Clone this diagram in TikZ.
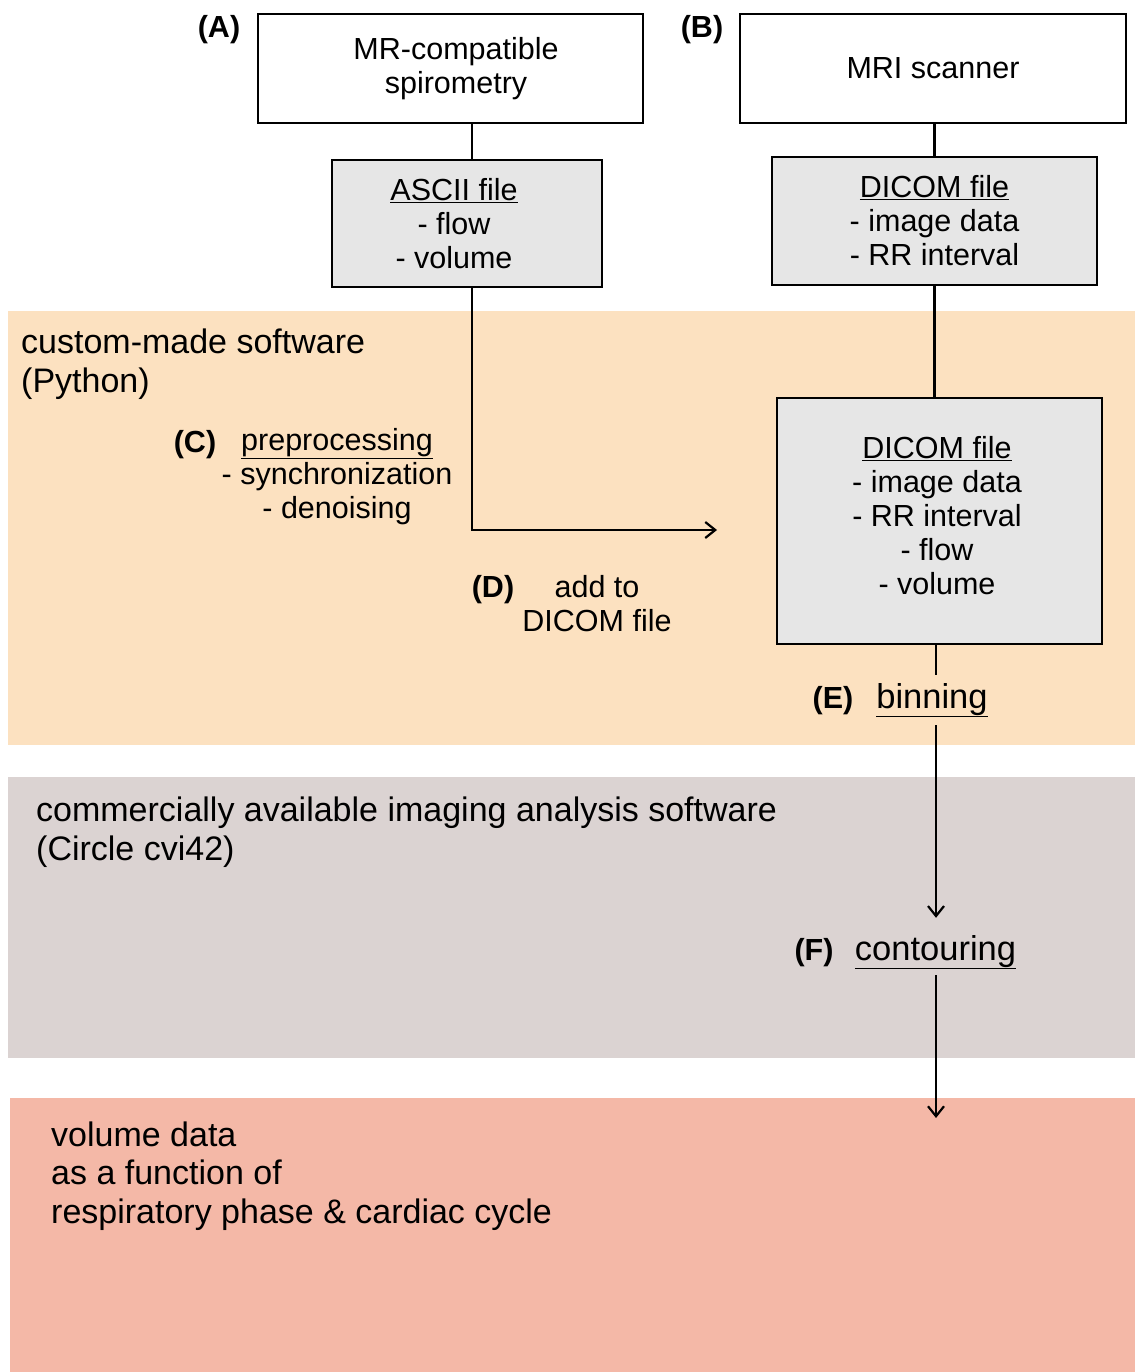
\documentclass[tikz,border=0pt]{standalone}
\usepackage{fontspec}
\setmainfont{Liberation Sans}
\usetikzlibrary{arrows.meta}
\definecolor{bandorange}{HTML}{FCE1C0}
\definecolor{bandgray}{HTML}{DBD3D2}
\definecolor{bandsalmon}{HTML}{F4B8A7}
\definecolor{boxgray}{HTML}{E6E6E6}
\begin{document}
\begin{tikzpicture}[x=1pt,y=-1pt,
  boxtext/.style={font=\fontsize{30.5}{34}\selectfont},
  steptext/.style={font=\fontsize{34.5}{38}\selectfont},
  titletext/.style={font=\fontsize{34}{38.5}\selectfont, align=left, inner sep=0pt, anchor=base west},
  lbl/.style={font=\fontsize{30.5}{34}\selectfont\bfseries, inner sep=0pt, anchor=base},
  whitebox/.style={draw, line width=2.6pt, fill=white, align=center, inner sep=0pt, boxtext},
  graybox/.style={whitebox, fill=boxgray},
  conn/.style={line width=2.2pt},
  arr/.style={conn, -{Straight Barb[length=10pt,width=16pt]}}
]
\useasboundingbox (0,0) rectangle (1135,1372);
% bands
\fill[bandorange] (8,311) rectangle (1135,745);
\fill[bandgray] (8,777) rectangle (1135,1058);
\fill[bandsalmon] (10,1098) rectangle (1135,1372);

% band titles (base = last line)
\node[titletext] (tA) at (21,392) {custom-made software\\(Python)};
\node[titletext] (tB) at (36,860) {commercially available imaging analysis software\\(Circle cvi42)};
\node[titletext] (tC) at (51,1223) {volume data\\as a function of\\respiratory phase \& cardiac cycle};

% boxes
\node[whitebox, minimum width=385pt, minimum height=109pt] (spiro) at (450.5,68.5) {\hspace*{11pt}MR-compatible\\\hspace*{11pt}spirometry};
\node[lbl] (labA) at (219,38) {(A)};
\node[graybox, minimum width=270pt, minimum height=127pt] (ascii) at (467,223.5) {\hspace*{-26pt}\underline{ASCII file}\\\hspace*{-26pt}- flow\\\hspace*{-26pt}- volume};

\node[whitebox, minimum width=386pt, minimum height=109pt] (mri) at (933,68.5) {MRI scanner};
\node[lbl] (labB) at (702,38) {(B)};
\node[graybox, minimum width=325pt, minimum height=128pt] (dicomA) at (934.5,221) {\underline{DICOM file}\\- image data\\- RR interval};

\node[graybox, minimum width=325pt, minimum height=246pt, text depth=11pt] (dicomB) at (939.5,521) {\hspace*{-5pt}\underline{DICOM file}\\\hspace*{-5pt}- image data\\\hspace*{-5pt}- RR interval\\\hspace*{-5pt}- flow\\\hspace*{-5pt}- volume};

% step labels
\node[boxtext, align=center, inner sep=0pt, anchor=base] (prep) at (337,518) {\underline{preprocessing}\\- synchronization\\- denoising};
\node[lbl] (labC) at (195,452) {(C)};
\node[boxtext, align=center, inner sep=0pt, anchor=base] (addto) at (597,631) {add to\\DICOM file};
\node[lbl] (labD) at (493,597) {(D)};
\node[steptext, anchor=base, inner xsep=0pt, inner ysep=8pt] (bin) at (932,708) {\underline{binning}};
\node[lbl] (labE) at (833,708) {(E)};
\node[steptext, anchor=base, inner xsep=0pt, inner ysep=6pt] (cont) at (935.5,960) {\underline{contouring}};
\node[lbl] (labF) at (814,960) {(F)};

% connectors
\draw[conn] ([xshift=5pt]ascii.north) -- ([xshift=5pt]ascii.north |- spiro.south);
\draw[conn] (dicomA.north) -- (dicomA.north |- mri.south);
\draw[conn] (dicomA.south) -- (dicomA.south |- dicomB.north);
\coordinate (addend) at (717,530);
\draw[arr] ([xshift=5pt]ascii.south) |- (addend);
\draw[conn] ([xshift=-3.5pt]dicomB.south) -- ([xshift=-3.5pt]dicomB.south |- bin.north);
\draw[arr, shorten >=11pt] ([xshift=-3.5pt]dicomB.south |- bin.south) -- ([xshift=0.5pt]cont.north);
\coordinate (resend) at (936,1118);
\draw[arr] ([xshift=0.5pt]cont.south) -- (resend);
\end{tikzpicture}
\end{document}
